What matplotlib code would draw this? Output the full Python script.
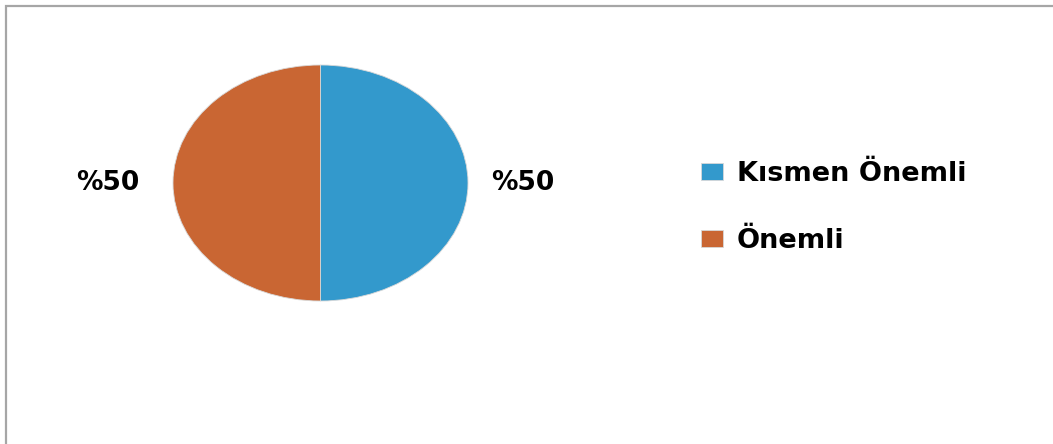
import numpy as np
import matplotlib.pyplot as plt
from matplotlib.patches import Rectangle

# dilim verileri
labels = ['Kısmen Önemli', 'Önemli']
values = [50, 50]
colors = ['#3399CC', '#C96633']

fig = plt.figure(figsize=(10.53, 4.44), dpi=100)
W, H = 1053, 444

# çerçeve (sağ ve alt kenar görüntü dışında kalıyor)
fig.patches.append(Rectangle((6 / W, -0.1), 1.2, (444 - 6) / H + 0.1,
                             transform=fig.transFigure, fill=False,
                             edgecolor='#A6A6A6', linewidth=1.6))

# pasta grafiği, yatayda hafif basık elips
ax = fig.add_axes([173 / W, (444 - 301) / H, 295 / W, 236 / H])
wedges, _ = ax.pie(values, colors=colors, startangle=90, counterclock=False,
                   wedgeprops=dict(linewidth=0.6, edgecolor='#D8D8D8'))
ax.set_aspect('auto')
ax.set_xlim(-1, 1)
ax.set_ylim(-1, 1)
ax.axis('off')

# yüzde etiketleri, dilimin orta açısına göre sağda / solda
for w, v in zip(wedges, values):
    mid = np.deg2rad((w.theta1 + w.theta2) / 2)
    x = 1.37 if np.cos(mid) > 0 else -1.44
    ax.text(x, 0, '%' + str(v), ha='center', va='center',
            fontsize=19, fontweight='bold', color='black')

fig.legend(wedges, labels, loc='upper left', bbox_to_anchor=(677 / W, 1 - 137 / H),
           frameon=False, prop=dict(size=19.5, weight='bold'),
           handlelength=0.8, handleheight=0.6, handletextpad=0.5,
           labelspacing=1.5)

fig.savefig('out.png', dpi=100)
